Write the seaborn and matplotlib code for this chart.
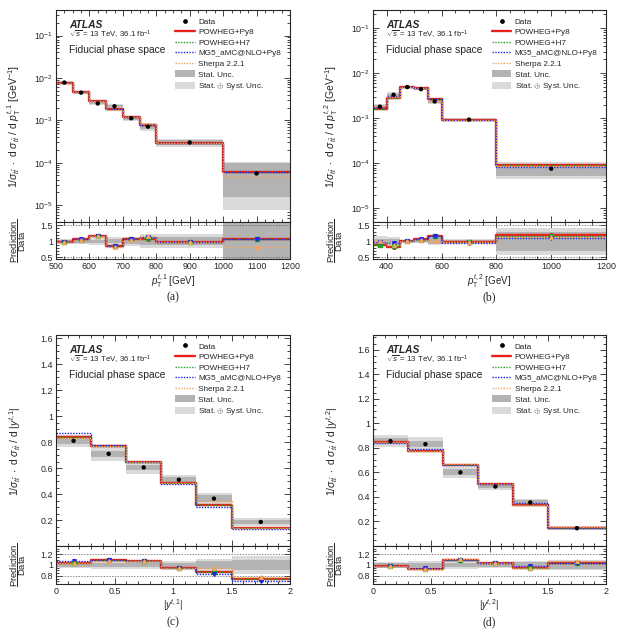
import numpy as np
import seaborn as sns
import matplotlib.pyplot as plt
from matplotlib.lines import Line2D
from matplotlib.patches import Patch
from matplotlib.ticker import MultipleLocator, FixedLocator, FuncFormatter

# ---------------- data ----------------
# (a) leading top pT
a_edges = [500, 550, 600, 650, 700, 750, 800, 1000, 1200]
a_data = [7.8e-3, 4.5e-3, 2.5e-3, 2.15e-3, 1.12e-3, 7.1e-4, 3.0e-4, 5.6e-5]
a_tot = [0.06, 0.07, 0.10, 0.12, 0.14, 0.22, 0.22, 0.86]
a_stat = [0.03, 0.04, 0.05, 0.06, 0.08, 0.12, 0.12, 0.72]
a_py8 = [0.97, 1.06, 1.17, 0.86, 1.06, 1.07, 0.99, 1.08]
a_h7 = [0.97, 1.05, 1.16, 0.85, 1.06, 1.10, 0.98, 1.08]
a_mg5 = [0.98, 1.06, 1.17, 0.86, 1.07, 1.12, 0.99, 1.08]
a_sherpa = [0.99, 1.05, 1.16, 0.83, 1.05, 1.18, 0.98, 0.83]

# (b) subleading top pT
b_edges = [350, 400, 450, 500, 550, 600, 800, 1200]
b_data = [1.8e-3, 3.3e-3, 4.9e-3, 4.4e-3, 2.35e-3, 9.3e-4, 7.6e-5]
b_tot = [0.15, 0.13, 0.05, 0.06, 0.13, 0.06, 0.42]
b_stat = [0.07, 0.06, 0.03, 0.03, 0.09, 0.04, 0.30]
b_py8 = [0.87, 0.83, 1.00, 1.06, 1.16, 0.98, 1.20]
b_h7 = [0.87, 0.84, 1.00, 1.05, 1.15, 0.98, 1.18]
b_mg5 = [0.97, 0.94, 1.00, 1.06, 1.15, 0.96, 1.10]
b_sherpa = [1.02, 0.88, 1.00, 1.04, 1.02, 0.97, 1.12]

# (c) leading top |y|
c_edges = [0.0, 0.3, 0.6, 0.9, 1.2, 1.5, 2.0]
c_data = [0.81, 0.71, 0.605, 0.51, 0.365, 0.185]
c_tot = [0.06, 0.08, 0.08, 0.07, 0.11, 0.17]
c_stat = [0.03, 0.03, 0.03, 0.04, 0.07, 0.10]
c_py8 = [1.04, 1.09, 1.07, 0.95, 0.87, 0.74]
c_h7 = [1.04, 1.09, 1.07, 0.95, 0.87, 0.74]
c_mg5 = [1.07, 1.10, 1.07, 0.94, 0.83, 0.70]
c_sherpa = [1.03, 1.08, 1.07, 0.95, 0.95, 0.77]

# (d) subleading top |y|
d_edges = [0.0, 0.3, 0.6, 0.9, 1.2, 1.5, 2.0]
d_data = [0.855, 0.83, 0.60, 0.485, 0.355, 0.145]
d_tot = [0.055, 0.07, 0.08, 0.055, 0.08, 0.10]
d_stat = [0.03, 0.03, 0.04, 0.03, 0.06, 0.07]
d_py8 = [0.99, 0.93, 1.10, 1.04, 0.95, 1.03]
d_h7 = [0.99, 0.93, 1.10, 1.04, 0.95, 1.03]
d_mg5 = [0.98, 0.95, 1.10, 1.04, 0.99, 1.03]
d_sherpa = [0.99, 0.93, 1.11, 1.04, 0.95, 1.07]

# ---------------- style ----------------
sns.set_style('ticks')
plt.rcParams['font.family'] = ['Liberation Sans', 'DejaVu Sans']
plt.rcParams['mathtext.fontset'] = 'custom'
plt.rcParams['mathtext.rm'] = 'Liberation Sans'
plt.rcParams['mathtext.it'] = 'Liberation Sans:italic'
plt.rcParams['mathtext.bf'] = 'Liberation Sans:bold'

RED = '#e8211c'
GREEN = '#22a022'
BLUE = '#2020ee'
ORANGE = '#f7a35c'
STAT = '#b3b3b3'
TOT = '#dadada'
DOT = (0, (1, 1))

gens = [('py8', RED, '-', 1.7, 'o'), ('h7', GREEN, DOT, 1.0, 's'),
        ('mg5', BLUE, DOT, 1.0, 'v'), ('sherpa', ORANGE, DOT, 1.0, '^')]

W, H = 621, 636
fig = plt.figure(figsize=(W / 100, H / 100), dpi=100)


def add_px(x0, x1, y0, y1):
    return fig.add_axes([x0 / W, 1 - y1 / H, (x1 - x0) / W, (y1 - y0) / H])


def steps(ax, edges, vals, **kw):
    yy = list(vals) + [vals[-1]]
    sns.lineplot(x=edges, y=yy, drawstyle='steps-post', ax=ax, legend=False, **kw)


def style(ax):
    ax.tick_params(which='both', direction='in', top=True, right=True,
                   labelsize=6.4, width=0.6, pad=2)
    ax.tick_params(which='major', length=4)
    ax.tick_params(which='minor', length=2)
    for s in ax.spines.values():
        s.set_linewidth(0.8)


fmt = FuncFormatter(lambda v, p: '%g' % v)


def panel(box, edges, data, tot, stat, ratios, logy, ylim, rlim, rlines,
          ylabel, xlabel, xmaj, xmin, caption):
    x0, x1, y0, y1, y2 = box
    ax = add_px(x0, x1, y0, y1)
    rax = add_px(x0, x1, y1, y2)
    edges = np.array(edges, dtype=float)
    data = np.array(data)
    tot = np.array(tot)
    stat = np.array(stat)
    cen = 0.5 * (edges[1:] + edges[:-1])
    wid = np.diff(edges)

    # main panel
    ax.bar(cen, 2 * tot * data, bottom=data * (1 - tot), width=wid, color=TOT, lw=0)
    ax.bar(cen, 2 * stat * data, bottom=data * (1 - stat), width=wid, color=STAT, lw=0)
    for key, col, ls, lw, mk in gens:
        steps(ax, edges, data * np.array(ratios[key]), color=col, linestyle=ls, linewidth=lw)
    sns.scatterplot(x=cen, y=data, color='black', s=10, edgecolor='none', ax=ax, zorder=6)

    # ratio panel
    rax.bar(cen, 2 * tot, bottom=1 - tot, width=wid, color=TOT, lw=0)
    rax.bar(cen, 2 * stat, bottom=1 - stat, width=wid, color=STAT, lw=0)
    for yl in rlines:
        rax.axhline(yl, color='#555555', lw=0.5, ls=(0, (2, 2)))
    for key, col, ls, lw, mk in gens:
        steps(rax, edges, ratios[key], color=col, linestyle=ls, linewidth=lw)
        rax.plot(cen, ratios[key], ls='none', marker=mk, ms=2.6, color=col, zorder=5)

    if logy:
        ax.set_yscale('log')
    else:
        ax.yaxis.set_major_locator(FixedLocator([0.2, 0.4, 0.6, 0.8, 1.0, 1.2, 1.4, 1.6]))
        ax.yaxis.set_minor_locator(MultipleLocator(0.05))
        ax.yaxis.set_major_formatter(fmt)
    ax.set_ylim(*ylim)
    for a in (ax, rax):
        a.set_xlim(edges[0], edges[-1])
        a.xaxis.set_major_locator(MultipleLocator(xmaj))
        a.xaxis.set_minor_locator(MultipleLocator(xmin))
        a.xaxis.set_major_formatter(fmt)
        a.set_xlabel('')
        a.set_ylabel('')
        style(a)
    ax.tick_params(labelbottom=False)
    rax.set_ylim(*rlim)
    rstep = 0.5 if rlim[1] > 1.4 else 0.2
    rax.yaxis.set_major_locator(MultipleLocator(rstep))
    rax.yaxis.set_minor_locator(MultipleLocator(rstep / 4 if rstep == 0.2 else 0.1))
    rax.yaxis.set_major_formatter(fmt)

    ax.set_ylabel(ylabel, fontsize=7.5)
    ax.yaxis.set_label_coords(-0.14, 0.45)
    rax.set_ylabel(r'$\dfrac{\mathrm{Prediction}}{\mathrm{Data}}$', fontsize=6.8)
    rax.yaxis.set_label_coords(-0.12, 0.5)
    rax.set_xlabel(xlabel, fontsize=7, labelpad=1)

    # labels
    ax.text(0.057, 0.93, 'ATLAS', transform=ax.transAxes, fontsize=7.4,
            fontweight='bold', fontstyle='italic', va='center')
    ax.text(0.057, 0.882, r'$\sqrt{s}$ = 13 TeV, 36.1 fb$^{-1}$',
            transform=ax.transAxes, fontsize=5.7, va='center')
    ax.text(0.057, 0.81, 'Fiducial phase space', transform=ax.transAxes,
            fontsize=7.4, va='center')

    handles = [Line2D([], [], ls='none', marker='o', color='k', ms=2.4)]
    for key, col, ls, lw, mk in gens:
        handles.append(Line2D([], [], color=col, linestyle=ls, linewidth=lw))
    handles += [Patch(color=STAT, lw=0), Patch(color=TOT, lw=0)]
    labels = ['Data', 'POWHEG+Py8', 'POWHEG+H7', 'MG5_aMC@NLO+Py8',
              'Sherpa 2.2.1', 'Stat. Unc.', r'Stat. $\oplus$ Syst. Unc.']
    ax.legend(handles, labels, loc='upper left', bbox_to_anchor=(0.51, 0.965),
              frameon=False, fontsize=5.85, handlelength=2.4, handleheight=0.9,
              handletextpad=0.4, labelspacing=0.3, borderpad=0, borderaxespad=0)

    fig.text((x0 + x1) / 2 / W, 1 - (y2 + 38) / H, caption, ha='center',
             va='center', fontsize=8.5, family='Liberation Serif')


ylab_pt = r'$1/\sigma_{t\bar{t}}\ \cdot\ \mathrm{d}\ \sigma_{t\bar{t}}\ /\ \mathrm{d}\ p_{\mathrm{T}}^{t,%d}$ [GeV$^{-1}$]'
ylab_y = r'$1/\sigma_{t\bar{t}}\ \cdot\ \mathrm{d}\ \sigma_{t\bar{t}}\ /\ \mathrm{d}\ |y^{t,%d}|$'

panel((56, 290, 10, 222, 259), a_edges, a_data, a_tot, a_stat,
      {'py8': a_py8, 'h7': a_h7, 'mg5': a_mg5, 'sherpa': a_sherpa},
      True, (4e-6, 0.4), (0.45, 1.6), [0.5, 1.5],
      ylab_pt % 1, r'$p_{\mathrm{T}}^{t,1}$ [GeV]', 100, 25, '(a)')
panel((373, 606, 10, 222, 259), b_edges, b_data, b_tot, b_stat,
      {'py8': b_py8, 'h7': b_h7, 'mg5': b_mg5, 'sherpa': b_sherpa},
      True, (5e-6, 0.25), (0.45, 1.6), [0.5, 1.5],
      ylab_pt % 2, r'$p_{\mathrm{T}}^{t,2}$ [GeV]', 200, 50, '(b)')
panel((56, 290, 335, 546, 584), c_edges, c_data, c_tot, c_stat,
      {'py8': c_py8, 'h7': c_h7, 'mg5': c_mg5, 'sherpa': c_sherpa},
      False, (0.0, 1.625), (0.65, 1.35), [0.8, 1.2],
      ylab_y % 1, r'$|y^{t,1}|$', 0.5, 0.1, '(c)')
panel((373, 606, 335, 546, 584), d_edges, d_data, d_tot, d_stat,
      {'py8': d_py8, 'h7': d_h7, 'mg5': d_mg5, 'sherpa': d_sherpa},
      False, (0.0, 1.72), (0.65, 1.35), [0.8, 1.2],
      ylab_y % 2, r'$|y^{t,2}|$', 0.5, 0.1, '(d)')

fig.savefig('out.png', dpi=100)
